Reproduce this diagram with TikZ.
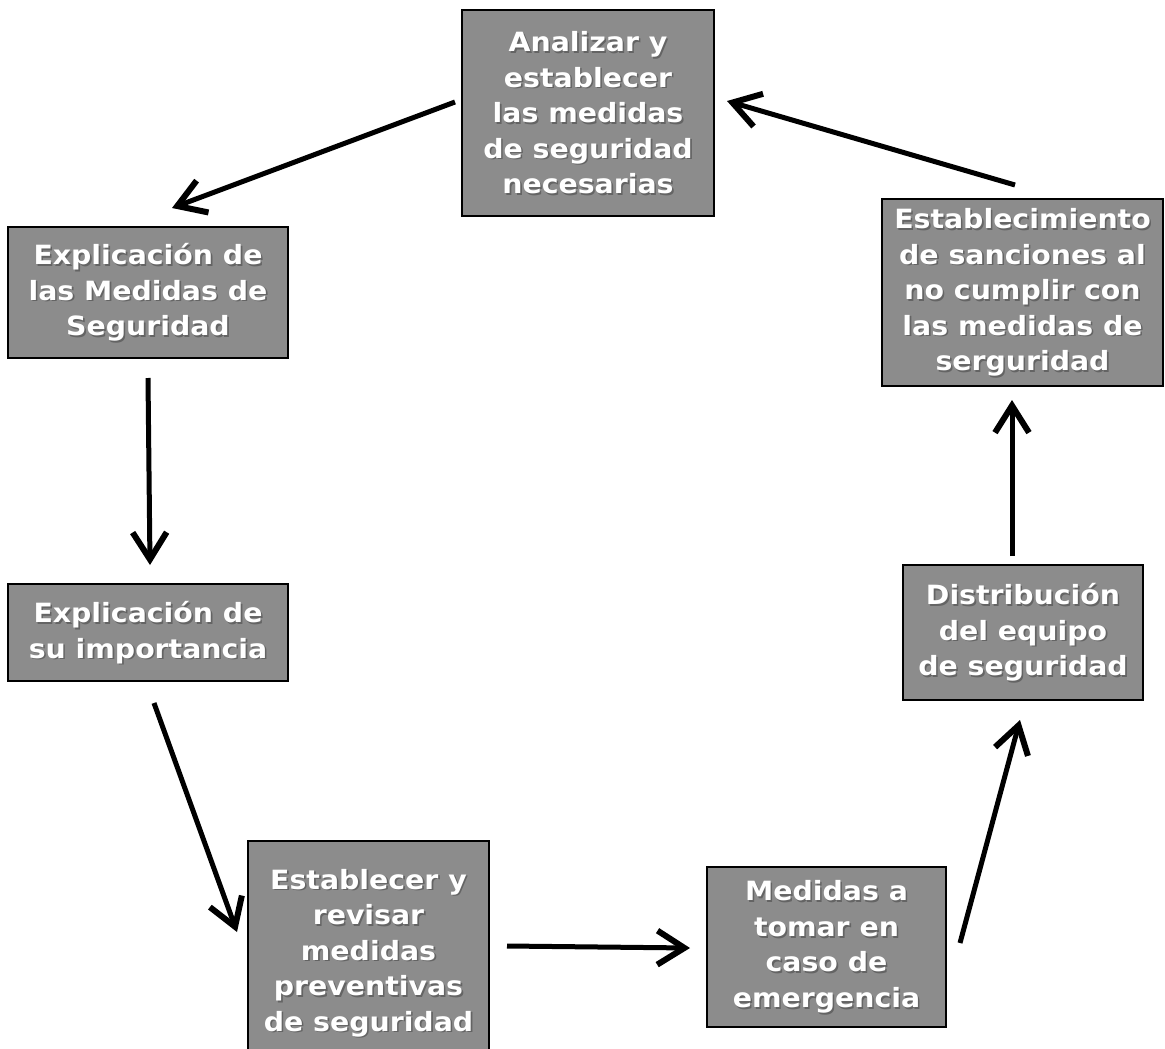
\documentclass[tikz,border=0pt]{standalone}
\usepackage{fontspec}
\setmainfont{DejaVu Sans}[BoldFeatures={FakeStretch=1.07}]
\usetikzlibrary{arrows.meta}
\definecolor{boxgray}{RGB}{140,140,140}
\definecolor{shadegray}{RGB}{100,100,100}
\tikzset{
  box/.style={draw=black, line width=2.2pt, fill=boxgray, inner sep=0pt},
  txt/.style={text=white, align=center, font=\fontsize{26.5}{35.5}\selectfont\bfseries, inner sep=0pt},
  txtshade/.style={txt, text=shadegray},
  flow/.style={line width=5pt, -{Straight Barb[length=27pt, width=34pt, line width=6pt]}},
}
% box with shadowed white caption
\newcommand{\stepnode}[5]{%
  \node[box, minimum width=#3, minimum height=#4] (#1) at #2 {};
  \node[txtshade] at ([shift={(1.6,1.6)}]#1.center) {#5};
  \node[txt] (#1-t) at (#1.center) {#5};
}
\begin{document}
\begin{tikzpicture}[x=1pt, y=-1pt]
\useasboundingbox (0,0) rectangle (1165,1049);
\begin{scope}
\clip (0,0) rectangle (1165,1049);
\stepnode{analizar}{(588,113)}{252}{206}{Analizar y\\establecer\\las medidas\\de seguridad\\necesarias}
\stepnode{explmed}{(148,292.5)}{280}{131}{Explicación de\\las Medidas de\\Seguridad}
\stepnode{explimp}{(148,632.5)}{280}{97}{Explicación de\\su importancia}
\stepnode{revisar}{(368.5,953)}{241}{224}{Establecer y\\revisar\\medidas\\preventivas\\de seguridad}
\stepnode{emerg}{(826.5,947)}{239}{160}{Medidas a\\tomar en\\caso de\\emergencia}
\stepnode{distrib}{(1023,632.5)}{240}{135}{Distribución\\del equipo\\de seguridad}
\stepnode{sanc}{(1022.5,292.5)}{281}{187}{Establecimiento\\de sanciones al\\no cumplir con\\las medidas de\\serguridad}
\end{scope}

% arrow end points
\coordinate (a1s) at (455,102);  \coordinate (a1e) at (172,208);
\coordinate (a2s) at (148,378);  \coordinate (a2e) at (150,565);
\coordinate (a3s) at (154,703);  \coordinate (a3e) at (237,932);
\coordinate (a4s) at (507,946);  \coordinate (a4e) at (690,948);
\coordinate (a5s) at (960,943);  \coordinate (a5e) at (1020,720);
\coordinate (a6s) at (1012,556); \coordinate (a6e) at (1012,400);
\coordinate (a7s) at (1015,185); \coordinate (a7e) at (727,101);

\draw[flow] (a1s) -- (a1e);
\draw[flow] (a2s) -- (a2e);
\draw[flow] (a3s) -- (a3e);
\draw[flow] (a4s) -- (a4e);
\draw[flow] (a5s) -- (a5e);
\draw[flow] (a6s) -- (a6e);
\draw[flow] (a7s) -- (a7e);
\end{tikzpicture}
\end{document}
